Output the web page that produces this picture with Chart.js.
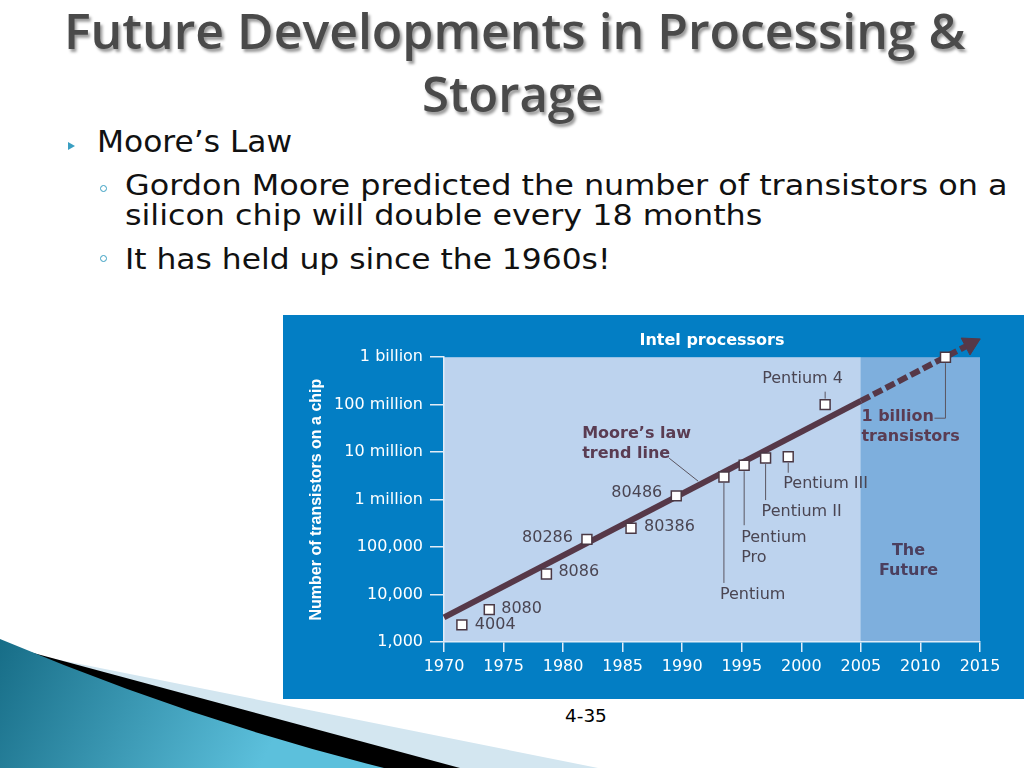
<!DOCTYPE html>
<html>
<head>
<meta charset="utf-8">
<script src="https://cdn.jsdelivr.net/npm/chart.js@4.4.1/dist/chart.umd.min.js"></script>
<style>
  body { margin: 0; width: 1024px; height: 768px; overflow: hidden; background: #fff; position: relative; }
  .txt { position: absolute; white-space: nowrap; transform-origin: 0 0; line-height: 1; }
  .title { font-family: "Open Sans", sans-serif; font-weight: 600; font-size: 49px; color: #4a4a4a; text-shadow: 2px 3px 3px rgba(0,0,0,0.4); }
  .body1 { font-family: "DejaVu Sans", sans-serif; font-size: 30px; color: #111; }
  .body2 { font-family: "DejaVu Sans", sans-serif; font-size: 29px; color: #111; }
  .arrow { position: absolute; left: 68px; top: 142px; width: 0; height: 0;
           border-left: 7px solid #3a9fc2; border-top: 4.5px solid transparent; border-bottom: 4.5px solid transparent; }
  .ring { position: absolute; width: 5px; height: 5px; border: 1px solid #3a9fc2; border-radius: 50%; }
  #panel { position: absolute; left: 283px; top: 315px; width: 741px; height: 384px; background: #037ec4; }
  .pageno { font-family: "DejaVu Sans", sans-serif; font-size: 18px; color: #000; }
</style>
</head>
<body>
<svg width="620" height="140" viewBox="0 628 620 140" style="position:absolute;left:0;top:628px">
  <defs>
    <linearGradient id="teal" gradientUnits="userSpaceOnUse" x1="0" y1="640" x2="260" y2="768">
      <stop offset="0" stop-color="#176d87"/>
      <stop offset="1" stop-color="#5cc0dc"/>
    </linearGradient>
  </defs>
  <path d="M0,648 L598,768 L0,768 Z" fill="#d3e6f0"/>
  <path d="M0,644 L460,768 L0,768 Z" fill="#000"/>
  <path d="M0,639 Q192,720 384,768 L0,768 Z" fill="url(#teal)"/>
</svg>

<div id="t1" class="txt title" style="left:64px;top:6px">Future Developments in Processing &amp;</div>
<div id="t2" class="txt title" style="left:422px;top:69px">Storage</div>

<div class="arrow"></div>
<div id="b1" class="txt body1" style="left:97px;top:127px">Moore’s Law</div>
<div class="ring" style="left:100px;top:185px"></div>
<div id="b2" class="txt body2" style="left:125px;top:171px">Gordon Moore predicted the number of transistors on a</div>
<div id="b3" class="txt body2" style="left:125px;top:201px">silicon chip will double every 18 months</div>
<div class="ring" style="left:100px;top:255px"></div>
<div id="b4" class="txt body2" style="left:125px;top:245px">It has held up since the 1960s!</div>

<div id="panel"><canvas id="moore"></canvas></div>

<div id="pg" class="txt pageno" style="left:565px;top:707px">4-35</div>

<script>
// chips plotted on the chart
const chipNames = ['4004', '8080', '8086', '80286', '80386', '80486', 'Pentium', 'Pentium Pro',
                   'Pentium II', 'Pentium III', 'Pentium 4', '1 billion transistors'];
const chipYears = [1971.5, 1973.8, 1978.6, 1982.0, 1985.7, 1989.5, 1993.5, 1995.2, 1997.0, 1998.9, 2002.0, 2012.1];
const chipCounts = [2300, 4800, 27000, 145000, 250000, 1200000, 3000000, 5300000, 7500000, 8000000, 100000000, 1000000000];

// Moore's law trend line, solid part then the dashed forecast ending in an arrow
const trendYears = [1970, 2005];
const trendCounts = [3300, 120000000];
const forecastYears = [2005, 2014.2];
const forecastCounts = [120000000, 1900000000];

const futureFrom = 2005;
const yearTicks = [1970, 1975, 1980, 1985, 1990, 1995, 2000, 2005, 2010, 2015];
const countTicks = [1000, 10000, 100000, 1000000, 10000000, 100000000, 1000000000];
const countTickLabels = ['1,000', '10,000', '100,000', '1 million', '10 million', '100 million', '1 billion'];

// where each chip's label sits, in pixels from its marker
const chipLabelSpots = [
    { dx: 13, dy: 0, align: 'left' },
    { dx: 12, dy: -1, align: 'left' },
    { dx: 12, dy: -2, align: 'left' },
    { dx: -14, dy: -2, align: 'right' },
    { dx: 13, dy: -1, align: 'left' },
    { dx: -14, dy: -3, align: 'right' },
    { dx: -4, dy: 118, align: 'left', lead: [[0, 6], [0, 106]] },
    { dx: -3, dy: 73, align: 'left', wrap: true, lead: [[0, 6], [0, 60]] },
    { dx: -4, dy: 54, align: 'left', lead: [[0, 6], [0, 42]] },
    { dx: -5, dy: 27, align: 'left', lead: [[0, 6], [0, 16]] },
    { dx: -63, dy: -26, align: 'left', lead: [[0, -6], [0, -13]] },
    { dx: -84, dy: 60, align: 'left', wrap: true, bold: true, lead: [[-11, 61], [0, 61], [0, 6]] }
];

const notes = [
    { lines: ['Moore’s law', 'trend line'], year: 1981.6, count: 23900000, align: 'left', color: '#5a3c52',
      lead: [[87, 24], [116, 47]] },
    { lines: ['The', 'Future'], year: 2009.0, count: 82400, align: 'center', color: '#4b3f5e' }
];

const lineColor = '#563848';
const labelColor = '#4a4552';

Chart.defaults.font.family = '"DejaVu Sans", sans-serif';
Chart.defaults.font.size = 16;

const backdrop = {
    id: 'backdrop',
    beforeDraw(chart) {
        const { ctx, chartArea: a, scales: { x } } = chart;
        const xf = x.getPixelForValue(futureFrom);
        ctx.save();
        ctx.fillStyle = '#bdd3ee';
        ctx.fillRect(a.left, a.top, xf - a.left, a.bottom - a.top);
        ctx.fillStyle = '#7eafdd';
        ctx.fillRect(xf, a.top, a.right - xf, a.bottom - a.top);
        ctx.restore();
    }
};

function drawLead(ctx, x0, y0, pts) {
    ctx.beginPath();
    pts.forEach((p, i) => {
        if (i === 0) ctx.moveTo(x0 + p[0], y0 + p[1]);
        else ctx.lineTo(x0 + p[0], y0 + p[1]);
    });
    ctx.stroke();
}

function splitName(name) {
    const cut = name.lastIndexOf(' ');
    return [name.slice(0, cut), name.slice(cut + 1)];
}

const annotations = {
    id: 'annotations',
    beforeDatasetsDraw(chart) {
        const { ctx, scales: { x, y } } = chart;
        ctx.save();
        ctx.strokeStyle = '#5a5560';
        ctx.lineWidth = 1;
        ctx.textBaseline = 'middle';

        chipNames.forEach((name, i) => {
            const spot = chipLabelSpots[i];
            const px = x.getPixelForValue(chipYears[i]);
            const py = y.getPixelForValue(chipCounts[i]);
            if (spot.lead) drawLead(ctx, px, py, spot.lead);
            const lines = spot.wrap ? splitName(name) : [name];
            ctx.fillStyle = spot.bold ? '#5a3c52' : labelColor;
            ctx.font = (spot.bold ? 'bold ' : '') + '16px "DejaVu Sans"';
            ctx.textAlign = spot.align;
            lines.forEach((t, k) => ctx.fillText(t, px + spot.dx, py + spot.dy + k * 20));
        });

        notes.forEach(n => {
            const px = x.getPixelForValue(n.year);
            const py = y.getPixelForValue(n.count);
            if (n.lead) drawLead(ctx, px, py, n.lead);
            ctx.fillStyle = n.color;
            ctx.font = 'bold 16px "DejaVu Sans"';
            ctx.textAlign = n.align;
            n.lines.forEach((t, k) => ctx.fillText(t, px, py + k * 20));
        });
        ctx.restore();
    },
    // arrow head at the end of the forecast; it sits above the chart area,
    // where Chart.js would skip the point, so it is drawn here with the point helper
    afterDatasetsDraw(chart) {
        const { ctx, scales: { x, y } } = chart;
        const last = forecastYears.length - 1;
        ctx.save();
        ctx.fillStyle = lineColor;
        ctx.strokeStyle = lineColor;
        ctx.lineWidth = 1;
        Chart.helpers.drawPoint(ctx, { pointStyle: 'triangle', rotation: 62.5, radius: 11, borderWidth: 1 },
            x.getPixelForValue(forecastYears[last]), y.getPixelForValue(forecastCounts[last]));
        ctx.restore();
    }
};

const pts = (xs, ys) => xs.map((v, i) => ({ x: v, y: ys[i] }));

new Chart(document.getElementById('moore'), {
    type: 'scatter',
    data: {
        datasets: [
            {
                label: 'Intel chips',
                data: pts(chipYears, chipCounts),
                pointStyle: 'rect',
                pointRadius: 7,
                backgroundColor: '#ffffff',
                borderColor: '#4a3844',
                borderWidth: 1.5,
                showLine: false,
                clip: false
            },
            {
                label: 'Forecast',
                data: pts(forecastYears, forecastCounts),
                showLine: true,
                borderColor: lineColor,
                borderWidth: 6,
                borderDash: [10, 4],
                pointRadius: 0,
                clip: false
            },
            {
                label: 'Trend',
                data: pts(trendYears, trendCounts),
                showLine: true,
                borderColor: lineColor,
                borderWidth: 6,
                pointRadius: 0,
                clip: false
            }
        ]
    },
    options: {
        responsive: true,
        maintainAspectRatio: false,
        animation: false,
        events: [],
        layout: { padding: { left: 0, right: 44, top: 0, bottom: 0 } },
        plugins: {
            legend: { display: false },
            tooltip: { enabled: false },
            title: {
                display: true,
                text: 'Intel processors',
                fullSize: false,
                color: '#ffffff',
                font: { weight: 'bold', size: 16 },
                padding: { top: 16, bottom: 7 }
            }
        },
        scales: {
            x: {
                type: 'linear',
                min: 1970,
                max: 2015,
                afterFit: s => { s.height = 57; },
                afterBuildTicks: s => { s.ticks = yearTicks.map(v => ({ value: v })); },
                ticks: { color: '#ffffff', padding: 5, maxRotation: 0, callback: v => String(v) },
                grid: { drawOnChartArea: false, tickLength: 10, color: '#e2ecf7', lineWidth: 1.5 },
                border: { color: '#e2ecf7', width: 1.5 }
            },
            y: {
                type: 'logarithmic',
                min: 1000,
                max: 1000000000,
                afterFit: s => { s.width = 161; },
                afterBuildTicks: s => { s.ticks = countTicks.map(v => ({ value: v })); },
                ticks: {
                    color: '#ffffff',
                    padding: 7,
                    callback: v => countTickLabels[countTicks.indexOf(v)]
                },
                grid: { drawOnChartArea: false, tickLength: 14, color: '#e2ecf7', lineWidth: 1.5 },
                border: { color: '#e2ecf7', width: 1.5 },
                title: {
                    display: true,
                    text: 'Number of transistors on a chip',
                    color: '#ffffff',
                    font: { family: '"Liberation Sans", Arial, sans-serif', weight: 'bold', size: 16 },
                    padding: { top: 24, bottom: 0 }
                }
            }
        }
    },
    plugins: [backdrop, annotations]
});

function fitLine(id, width) {
    const el = document.getElementById(id);
    el.style.transform = 'scaleX(' + (width / el.offsetWidth) + ')';
}
fitLine('t1', 901);
fitLine('t2', 181);
fitLine('b1', 195);
fitLine('b2', 883);
fitLine('b3', 637);
fitLine('b4', 485);
fitLine('pg', 42);
</script>
</body>
</html>
